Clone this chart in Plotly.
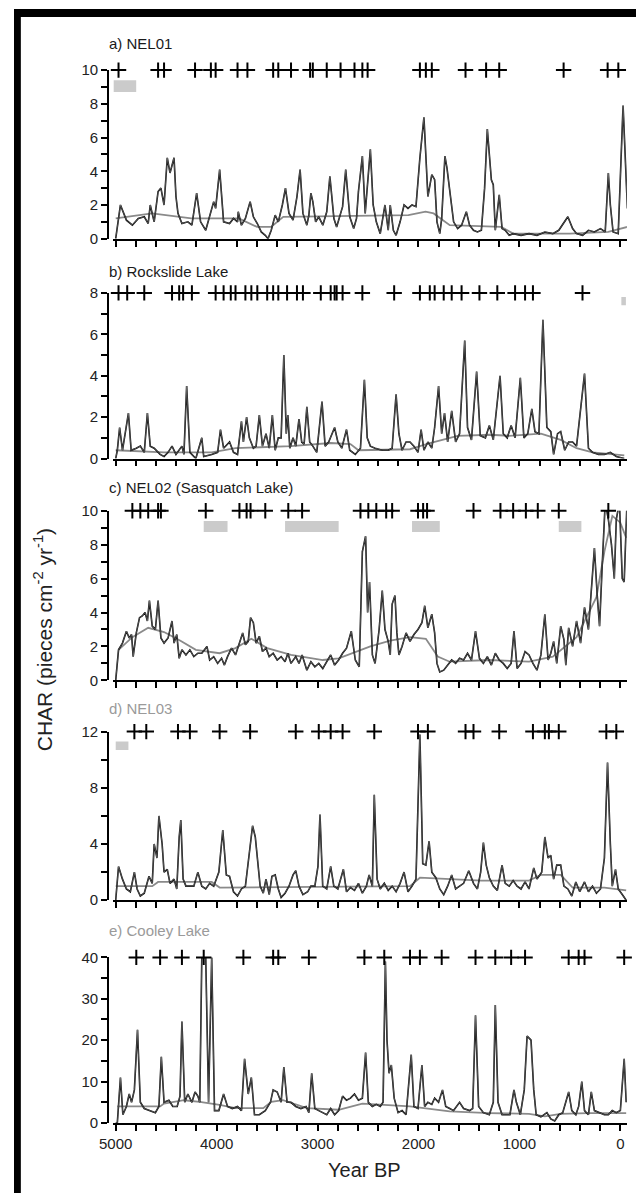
import plotly.graph_objects as go

W, H = 636, 1201

# ---------------- data (Year BP, CHAR pieces cm-2 yr-1) ----------------
a_year = [5000, 4953, 4894, 4835, 4776, 4717, 4678, 4658, 4619, 4580,
          4552, 4521, 4489, 4462, 4422, 4403, 4383, 4344, 4285, 4245,
          4198, 4159, 4108, 4049, 4029, 4010, 3970, 3931, 3872, 3833,
          3793, 3786, 3754, 3715, 3668, 3636, 3597, 3558, 3518, 3491,
          3459, 3420, 3389, 3349, 3318, 3283, 3243, 3204, 3173, 3145,
          3106, 3086, 3066, 3047, 3019, 2988, 2948, 2909, 2878, 2838,
          2811, 2752, 2721, 2681, 2642, 2614, 2595, 2556, 2528, 2516,
          2477, 2449, 2418, 2379, 2359, 2332, 2300, 2280, 2249, 2222,
          2182, 2143, 2104, 2064, 2025, 1986, 1946, 1907, 1868, 1840,
          1817, 1789, 1770, 1738, 1718, 1691, 1652, 1612, 1573, 1526,
          1494, 1455, 1416, 1377, 1345, 1318, 1278, 1259, 1239, 1200,
          1172, 1141, 1101, 1062, 984, 905, 826, 748, 669, 610,
          520, 473, 434, 374, 316, 257, 197, 150, 119, 99,
          72, 21, -27, -70]
a_char = [0, 2.0, 1.1, 0.8, 1.2, 1.3, 0.9, 2.0, 1.0, 2.8,
          3.0, 2.0, 4.8, 3.9, 4.8, 2.5, 1.5, 0.9, 1.0, 0.8,
          2.7, 1.0, 0.5, 1.7, 2.2, 1.8, 4.1, 1.0, 0.9, 1.2,
          1.0, 1.6, 0.8, 1.2, 2.2, 1.3, 0.9, 0.4, 0.2, 0.0,
          0.5, 1.4, 1.0, 2.0, 3.0, 1.5, 1.1, 2.5, 4.1, 1.5,
          0.8, 1.4, 2.7, 2.2, 1.0, 1.3, 0.8, 1.6, 3.7, 1.2,
          0.7, 1.9, 4.1, 1.3, 0.6, 1.2, 2.8, 4.9, 1.5, 2.4,
          5.3, 2.0, 1.0, 0.3, 1.0, 2.0, 0.5, 2.0, 0.5, 0.2,
          1.0, 2.0, 1.8, 2.0, 1.9, 4.8, 7.2, 2.5, 3.8, 3.5,
          1.0, 0.3, 1.2, 4.9, 4.2, 3.0, 1.0, 0.6, 0.8, 1.6,
          0.8, 0.5, 0.4, 0.5, 3.0, 6.5, 3.5, 3.2, 0.5, 2.6,
          0.6, 0.5, 0.2, 0.3, 0.2, 0.3, 0.2, 0.4, 0.3, 0.5,
          1.3, 0.6, 0.3, 0.2, 0.5, 0.4, 0.6, 0.4, 3.9, 2.0,
          0.4, 0.3, 7.9, 1.8]
a_bg_year = [5000, 4640, 4250, 3780, 3600, 3460, 3340, 2100, 1930, 1850, 1690, 1180, 1060, 500, 120, -70]
a_bg = [1.2, 1.5, 1.2, 1.2, 0.7, 0.7, 1.3, 1.4, 1.6, 1.5, 0.8, 0.7, 0.3, 0.3, 0.4, 0.7]
a_peaks = [4972, 4580, 4521, 4214, 4057, 4010, 3793, 3695, 3440, 3389, 3263, 3074, 3047,
           2909, 2772, 2634, 2556, 2504, 1986, 1927, 1868, 1534, 1330, 1200, 562, 126, 20]
a_grey_peaks = [78, 0]

b_year = [5000, 4984, 4961, 4933, 4874, 4847, 4796, 4756, 4717, 4686,
          4658, 4619, 4560, 4521, 4481, 4442, 4403, 4344, 4324, 4297,
          4265, 4206, 4147, 4128, 4049, 3990, 3962, 3931, 3872, 3833,
          3793, 3754, 3735, 3703, 3676, 3636, 3609, 3577, 3546, 3511,
          3479, 3448, 3420, 3389, 3361, 3334, 3310, 3294, 3275, 3243,
          3216, 3184, 3157, 3133, 3106, 3078, 3047, 3008, 2956, 2925,
          2890, 2831, 2799, 2760, 2713, 2681, 2626, 2575, 2536, 2508,
          2477, 2430, 2359, 2300, 2261, 2222, 2194, 2163, 2123, 2084,
          2045, 2005, 1974, 1946, 1907, 1868, 1840, 1801, 1770, 1742,
          1711, 1671, 1632, 1593, 1542, 1514, 1475, 1424, 1388, 1337,
          1298, 1259, 1192, 1160, 1121, 1082, 1043, 991, 956, 917,
          877, 846, 807, 767, 728, 689, 661, 622, 591, 551,
          512, 473, 434, 355, 316, 276, 217, 158, 99, 40, -39]
b_char = [0, 0.4, 1.5, 0.4, 2.2, 0.4, 0.5, 0.6, 0.3, 2.2,
          0.6, 0.5, 0.2, 0.1, 0.3, 0.6, 0.2, 0.6, 0.2, 3.5,
          0.3, 0.0, 1.0, 0.1, 0.2, 0.3, 1.4, 0.5, 0.8, 0.3,
          0.2, 1.8, 0.8, 2.0, 1.0, 0.5, 0.6, 2.1, 0.6, 1.2,
          0.5, 2.1, 0.4, 1.0, 1.0, 5.0, 1.2, 2.1, 0.5, 1.0,
          0.6, 1.9, 0.8, 0.7, 2.5, 0.8, 0.6, 0.3, 2.75, 0.6,
          0.8, 1.5, 0.8, 0.5, 1.4, 0.4, 0.2, 0.5, 3.8, 1.0,
          0.6, 0.5, 0.4, 0.4, 0.5, 3.1, 1.2, 0.4, 0.8, 0.8,
          0.6, 0.3, 1.4, 0.4, 0.8, 0.5, 1.5, 3.5, 1.2, 2.2,
          0.8, 2.3, 0.8, 1.2, 5.7, 1.5, 0.9, 4.2, 1.1, 1.0,
          1.6, 0.9, 4.0, 1.2, 1.0, 1.6, 1.0, 3.9, 1.0, 1.2,
          2.4, 1.3, 1.2, 6.7, 1.5, 1.3, 0.2, 1.2, 1.3, 0.4,
          0.8, 0.8, 0.6, 4.1, 0.5, 0.3, 0.2, 0.2, 0.3, 0.1, 0.0]
b_bg_year = [5000, 4521, 4049, 3813, 3263, 2870, 2674, 2595, 2084, 1887, 1612, 1298, 1101, 787, 591, 434, 276, -39]
b_bg = [0.4, 0.3, 0.3, 0.5, 0.6, 0.75, 0.7, 0.4, 0.45, 0.75, 1.1, 1.15, 1.1, 1.2, 0.9, 0.5, 0.3, 0.15]
b_peaks = [4972, 4886, 4717, 4442, 4371, 4332, 4245, 4010, 3931, 3860, 3813, 3715, 3656,
           3597, 3499, 3440, 3389, 3302, 3204, 3145, 2968, 2870, 2831, 2811, 2752, 2556,
           2241, 1986, 1888, 1840, 1750, 1671, 1573, 1396, 1219, 1043, 944, 866, 375]

c_year = [5000, 4972, 4933, 4894, 4866, 4843, 4827, 4796, 4764, 4737,
          4709, 4686, 4666, 4638, 4607, 4580, 4552, 4521, 4481, 4442,
          4422, 4395, 4371, 4344, 4304, 4265, 4226, 4186, 4147, 4096,
          4069, 4029, 3990, 3951, 3923, 3892, 3852, 3813, 3774, 3742,
          3715, 3687, 3664, 3636, 3609, 3577, 3546, 3511, 3479, 3440,
          3400, 3361, 3322, 3294, 3263, 3216, 3184, 3153, 3106, 3066,
          3027, 2988, 2948, 2909, 2870, 2831, 2791, 2752, 2713, 2666,
          2626, 2587, 2556, 2524, 2504, 2485, 2457, 2430, 2390, 2359,
          2332, 2300, 2280, 2261, 2233, 2214, 2194, 2163, 2123, 2084,
          2045, 2005, 1966, 1938, 1907, 1868, 1840, 1817, 1789, 1750,
          1711, 1671, 1632, 1593, 1553, 1514, 1475, 1435, 1396, 1357,
          1318, 1278, 1239, 1200, 1160, 1121, 1082, 1054, 1023, 984,
          944, 905, 866, 826, 787, 748, 716, 689, 661, 630,
          591, 559, 540, 512, 473, 434, 394, 355, 316, 284,
          257, 229, 206, 178, 150, 119, 88, 60, 40, 9,
          -19, -38, -66]
c_char = [0, 1.8, 2.2, 2.9, 2.5, 2.7, 1.4, 2.8, 3.7, 3.8,
          4.0, 3.5, 4.7, 3.2, 3.0, 4.7, 2.5, 2.2, 2.5, 3.5,
          2.2, 2.7, 1.3, 1.8, 1.5, 1.8, 1.4, 1.6, 1.6, 2.0,
          1.2, 1.4, 1.0, 1.3, 0.9, 1.4, 1.9, 1.5, 2.2, 2.8,
          2.1, 2.3, 3.7, 3.4, 2.2, 2.6, 1.7, 1.9, 1.4, 1.6,
          1.2, 1.4, 1.1, 1.6, 1.0, 1.4, 1.0, 1.5, 0.6, 1.1,
          0.8, 1.0, 0.7, 1.1, 1.5, 0.9, 1.2, 1.6, 1.9, 2.9,
          1.2, 0.8, 7.6, 8.5, 4.0, 5.8, 1.5, 1.0, 3.0, 5.3,
          3.0, 2.3, 1.5, 4.5, 5.0, 2.8, 1.5, 2.0, 2.8, 2.3,
          2.7, 3.0, 3.4, 4.4, 3.1, 3.9, 2.8, 1.0, 0.5, 0.6,
          0.9, 1.2, 1.0, 1.3, 1.2, 1.6, 1.2, 2.9, 1.3, 1.0,
          1.4, 0.9, 1.6, 1.2, 1.0, 0.7, 1.0, 2.9, 0.7, 1.0,
          1.7, 1.5, 1.0, 0.6, 1.5, 3.9, 1.2, 1.6, 2.3, 1.0,
          3.2, 2.4, 0.9, 3.1, 2.0, 3.5, 2.2, 4.3, 3.0, 5.5,
          7.8, 5.0, 3.2, 7.0, 10.5, 9.5, 8.0, 6.0, 9.5, 10.5,
          6.0, 5.8, 10.5]
c_bg_year = [4972, 4835, 4678, 4521, 4363, 4206, 3970, 3813, 3656, 3499, 3263, 2948, 2791, 2477,
             2280, 2084, 1927, 1809, 1691, 1298, 905, 669, 434, 237, 158, 79, 0, -58]
c_bg = [1.8, 2.55, 3.1, 2.85, 2.35, 1.8, 1.6, 1.9, 2.45, 1.9, 1.5, 1.2, 1.3, 2.0,
        2.35, 2.55, 2.45, 1.4, 1.1, 1.2, 1.1, 1.4, 2.55, 4.9, 7.6, 9.7, 9.3, 8.4]
c_peaks = [4835, 4756, 4678, 4580, 4552, 4108, 3774, 3703, 3664, 3518, 3290, 3153, 2575,
           2497, 2418, 2320, 2261, 2005, 1954, 1915, 1455, 1188, 1062, 936, 818, 610, 119]
c_grey_peaks = [119, 60]
c_gaps_start = [4128, 3322, 2064, 610]
c_gaps_end = [3892, 2791, 1789, 386]

d_year = [5000, 4972, 4933, 4894, 4855, 4815, 4788, 4756, 4717, 4670,
          4638, 4619, 4591, 4572, 4540, 4521, 4489, 4462, 4422, 4395,
          4371, 4355, 4332, 4304, 4265, 4226, 4186, 4147, 4108, 4069,
          4029, 3978, 3939, 3904, 3872, 3833, 3793, 3754, 3715, 3676,
          3644, 3617, 3589, 3569, 3538, 3511, 3479, 3452, 3420, 3389,
          3361, 3322, 3283, 3243, 3216, 3184, 3145, 3098, 3066, 3027,
          2996, 2976, 2949, 2909, 2870, 2839, 2799, 2744, 2713, 2674,
          2634, 2595, 2556, 2516, 2489, 2457, 2438, 2410, 2379, 2339,
          2300, 2261, 2222, 2182, 2143, 2104, 2064, 2025, 1986, 1958,
          1927, 1895, 1868, 1828, 1789, 1750, 1711, 1671, 1632, 1593,
          1553, 1502, 1455, 1416, 1384, 1357, 1329, 1298, 1259, 1219,
          1172, 1141, 1101, 1062, 1023, 984, 944, 905, 858, 826,
          779, 748, 716, 689, 661, 630, 591, 559, 520, 481,
          441, 402, 355, 316, 276, 237, 197, 158, 127, 99,
          80, 48, 21, -19, -58]
d_char = [0, 2.4, 1.5, 0.8, 0.6, 2.0, 0.8, 0.3, 0.5, 1.7,
          1.2, 4.0, 3.0, 6.0, 4.0, 2.0, 2.2, 1.2, 1.5, 0.8,
          4.5, 5.7, 1.5, 1.0, 1.0, 1.0, 2.0, 1.0, 0.8, 1.2,
          1.0, 2.0, 5.0, 1.8, 1.7, 0.6, 0.3, 0.8, 1.0, 3.5,
          5.3, 4.5, 2.5, 1.0, 0.5, 1.5, 0.4, 1.7, 1.8, 0.8,
          0.2, 0.5, 1.0, 1.8, 2.1, 1.0, 0.4, 0.6, 1.0, 1.0,
          2.4, 6.1, 1.0, 0.8, 2.4, 1.0, 0.8, 2.2, 0.6, 0.9,
          0.7, 1.2, 0.5, 1.0, 1.8, 1.0, 7.5, 1.5, 0.8, 1.2,
          0.7, 1.0, 0.6, 1.2, 2.0, 0.6, 1.0, 1.5, 11.8, 2.6,
          2.5, 4.2, 2.0, 1.6, 0.8, 0.4, 1.0, 1.8, 0.8, 1.0,
          1.2, 2.1, 1.2, 0.8, 2.0, 4.1, 2.5, 1.6, 1.0, 0.7,
          2.5, 1.2, 1.0, 1.4, 1.0, 0.8, 1.3, 0.8, 2.3, 1.5,
          2.0, 4.5, 3.0, 3.2, 1.5, 2.5, 2.5, 1.0, 0.8, 0.3,
          1.3, 0.6, 1.3, 0.6, 1.0, 0.5, 0.8, 3.0, 9.8, 4.0,
          1.0, 2.2, 0.8, 0.4, 0.0]
d_bg_year = [5000, 4638, 4580, 4049, 3970, 2084, 1986, 1691, 1377, 905, 787, 591, 473, 158, -58]
d_bg = [1.0, 1.0, 1.3, 1.3, 0.9, 1.0, 1.6, 1.5, 1.4, 1.4, 1.8, 1.8, 0.9, 0.9, 0.7]
d_peaks = [4815, 4697, 4383, 4265, 3970, 3668, 3216, 2988, 2870, 2752, 2438, 2005, 1907,
           1534, 1455, 1200, 866, 748, 708, 610, 139, 40]
d_grey_peaks = [99, 40, 60]
d_grey_level = [13.5, 13.5, 12.7]

e_year = [5000, 4984, 4953, 4929, 4894, 4866, 4843, 4815, 4784, 4756,
          4717, 4658, 4607, 4572, 4548, 4521, 4473, 4434, 4391, 4363,
          4344, 4316, 4285, 4245, 4214, 4186, 4167, 4147, 4108, 4080,
          4049, 4021, 3978, 3931, 3892, 3845, 3793, 3754, 3723, 3687,
          3656, 3625, 3577, 3518, 3467, 3440, 3400, 3361, 3334, 3302,
          3263, 3216, 3165, 3114, 3086, 3058, 3027, 2988, 2948, 2909,
          2870, 2831, 2791, 2752, 2713, 2674, 2634, 2595, 2556, 2524,
          2497, 2457, 2418, 2379, 2351, 2328, 2312, 2292, 2269, 2241,
          2202, 2163, 2123, 2092, 2072, 2045, 2005, 1966, 1939, 1907,
          1868, 1840, 1801, 1762, 1730, 1691, 1652, 1593, 1553, 1494,
          1463, 1435, 1404, 1357, 1298, 1259, 1239, 1212, 1172, 1133,
          1094, 1054, 1030, 991, 952, 924, 885, 858, 834, 787,
          728, 689, 650, 610, 571, 512, 481, 441, 413, 382,
          355, 316, 288, 257, 206, 158, 119, 80, 40, 0,
          -38, -58]
e_char = [0, 0, 11, 2, 4, 7, 5, 8, 22.5, 5,
          3.5, 3, 2.5, 4, 16, 5, 5.5, 4, 4, 6.5,
          24.5, 5, 7, 5, 7.5, 6.5, 5, 40, 40, 5,
          40, 3, 3, 7, 4, 3.5, 4, 3, 15.5, 7,
          11, 2, 2, 3, 5, 8, 7.5, 5, 13.5, 5,
          5, 4, 3.5, 4, 2.5, 12, 3.5, 3, 2.5, 2,
          3.5, 2, 3, 6.5, 5.5, 6, 7, 5.5, 6, 17,
          5, 4, 4.5, 4, 5, 39, 20, 12, 14, 6,
          2.5, 3, 2, 10, 16.5, 4, 3.5, 14, 4, 5,
          4.5, 6, 5, 8, 4, 3.5, 3, 5, 3.5, 3,
          3.5, 26, 4, 2.5, 2, 5, 28.5, 5, 2, 2,
          2, 8, 5, 2, 8, 21, 20, 8, 2, 1.5,
          2.5, 1, 0.5, 2, 2.5, 7.5, 3, 2, 4, 10,
          3, 2, 7.5, 3, 2.5, 2, 2, 3, 2.5, 3,
          15.5, 5]
e_bg_year = [4984, 4560, 4521, 4324, 4167, 3970, 3813, 3538, 3459, 3342, 3106, 2791, 2556, 2320,
             2084, 1691, 1298, 905, 748, 591, 316, -58]
e_bg = [4.0, 4.0, 4.7, 5.5, 5.1, 4.4, 3.6, 3.6, 5.1, 5.5, 3.6, 3.2, 4.7, 4.4,
        4.0, 2.8, 2.4, 2.2, 1.6, 2.2, 2.4, 2.4]
e_peaks = [4796, 4560, 4344, 4128, 3735, 3440, 3389, 3086, 2536, 2339, 2084, 1986, 1770,
           1435, 1239, 1082, 944, 512, 413, 355, -38]
e_grey_peaks = [296]

x_ticks = [5000, 4800, 4600, 4400, 4200, 4000, 3800, 3600, 3400, 3200, 3000, 2800, 2600,
           2400, 2200, 2000, 1800, 1600, 1400, 1200, 1000, 800, 600, 400, 200, 0]
x_tick_text = ["5000", "", "", "", "", "4000", "", "", "", "", "3000", "", "",
               "", "", "2000", "", "", "", "", "1000", "", "", "", "", "0"]

# ---------------- layout helpers (pixel -> paper) ----------------
def PX(p):
    return p / W


def PY(p):
    return 1 - p / H


FONT = "Liberation Sans, Arial, sans-serif"
X_DOM = [PX(100.9), PX(626.7)]
X_RANGE = [5030, -65]
Y_POS = PX(96)

panels = [
    dict(title="a) NEL01", tcol="#1a1a1a", ty=35, top=62, bot=233, ymax=10, dt=2, mdt=1,
         yr=a_year, val=a_char, bgy=a_bg_year, bg=a_bg, pk=a_peaks,
         gpk=a_grey_peaks, gpl=[10.6, 10.6],
         rects=[(5020, 4797, 8.7, 9.4)]),
    dict(title="b) Rockslide Lake", tcol="#1a1a1a", ty=266, top=288, bot=456, ymax=8, dt=2, mdt=1,
         yr=b_year, val=b_char, bgy=b_bg_year, bg=b_bg, pk=b_peaks,
         gpk=[], gpl=[], rects=[(-10, -55, 7.4, 7.8)]),
    dict(title="c) NEL02 (Sasquatch Lake)", tcol="#1a1a1a", ty=485, top=509, bot=681, ymax=10, dt=2, mdt=1,
         yr=c_year, val=c_char, bgy=c_bg_year, bg=c_bg, pk=c_peaks,
         gpk=c_grey_peaks, gpl=[10.6, 10.6],
         rects=[(s, e, 8.75, 9.4) for s, e in zip(c_gaps_start, c_gaps_end)]),
    dict(title="d) NEL03", tcol="#9a9a9a", ty=710, top=733, bot=904, ymax=12, dt=4, mdt=2,
         yr=d_year, val=d_char, bgy=d_bg_year, bg=d_bg, pk=d_peaks,
         gpk=d_grey_peaks, gpl=d_grey_level, rects=[(5000, 4874, 10.7, 11.3)]),
    dict(title="e) Cooley Lake", tcol="#9a9a9a", ty=935, top=962, bot=1130, ymax=40, dt=10, mdt=5,
         yr=e_year, val=e_char, bgy=e_bg_year, bg=e_bg, pk=e_peaks,
         gpk=e_grey_peaks, gpl=[43.6], rects=[]),
]

fig = go.Figure()
layout = {}
shapes = []
annotations = []

for i, p in enumerate(panels, start=1):
    xr = "x" if i == 1 else f"x{i}"
    yr = "y" if i == 1 else f"y{i}"
    xa = "xaxis" if i == 1 else f"xaxis{i}"
    ya = "yaxis" if i == 1 else f"yaxis{i}"

    # smooth background
    fig.add_trace(go.Scatter(x=p["bgy"], y=p["bg"], xaxis=xr, yaxis=yr, mode="lines",
                             line=dict(color="#8a8a8a", width=1.8), hoverinfo="skip"))
    # raw CHAR (black) with the grey interpolated series over it
    fig.add_trace(go.Scatter(x=p["yr"], y=p["val"], xaxis=xr, yaxis=yr, mode="lines",
                             line=dict(color="#000000", width=1.6), hoverinfo="skip"))
    fig.add_trace(go.Scatter(x=p["yr"], y=p["val"], xaxis=xr, yaxis=yr, mode="lines",
                             line=dict(color="#9a9a9a", width=0.5), hoverinfo="skip"))
    # peak markers
    fig.add_trace(go.Scatter(x=p["pk"], y=[p["ymax"]] * len(p["pk"]), xaxis=xr, yaxis=yr,
                             mode="markers", cliponaxis=False,
                             marker=dict(symbol="cross-thin", size=11,
                                         line=dict(color="black", width=2)),
                             hoverinfo="skip"))
    if p["gpk"]:
        fig.add_trace(go.Scatter(x=p["gpk"], y=p["gpl"], xaxis=xr, yaxis=yr,
                                 mode="markers", cliponaxis=False,
                                 marker=dict(symbol="cross-thin", size=11,
                                             line=dict(color="#c4c4c4", width=2.5)),
                                 hoverinfo="skip"))
    for (x0, x1, y0, y1) in p["rects"]:
        shapes.append(dict(type="rect", xref=xr, yref=yr, x0=x0, x1=x1, y0=y0, y1=y1,
                           fillcolor="#cbcbcb", line=dict(width=0), layer="below"))

    layout[xa] = dict(domain=X_DOM, range=X_RANGE, anchor=yr, showline=True,
                      linecolor="black", linewidth=1.6, ticks="outside", ticklen=6,
                      tickwidth=1.6, tickcolor="black", showgrid=False, zeroline=False,
                      tickmode="array", tickvals=x_ticks, ticktext=x_tick_text,
                      showticklabels=(i == 5),
                      tickfont=dict(family=FONT, size=15, color="#222"))
    layout[ya] = dict(domain=[PY(p["bot"]), PY(p["top"])], range=[0, p["ymax"]],
                      anchor="free", position=Y_POS, showline=True, linecolor="black",
                      linewidth=1.6, ticks="outside", ticklen=6, tickwidth=1.6,
                      tickcolor="black", showgrid=False, zeroline=False, dtick=p["dt"],
                      tick0=0,
                      minor=dict(dtick=p["mdt"], tick0=0, ticks="outside", ticklen=6,
                                 tickwidth=1.6, tickcolor="black", showgrid=False),
                      tickfont=dict(family=FONT, size=15, color="#222"))

    annotations.append(dict(text=p["title"], xref="paper", yref="paper", x=PX(95), y=PY(p["ty"]),
                            xanchor="left", yanchor="middle", showarrow=False,
                            font=dict(family=FONT, size=15, color=p["tcol"])))

annotations.append(dict(text="CHAR (pieces cm<sup>-2</sup> yr<sup>-1</sup>)", xref="paper",
                        yref="paper", x=PX(30), y=PY(640), textangle=-90, showarrow=False,
                        xanchor="center", yanchor="middle",
                        font=dict(family=FONT, size=21, color="#222")))
annotations.append(dict(text="Year BP", xref="paper", yref="paper", x=PX(358), y=PY(1178),
                        showarrow=False, xanchor="center", yanchor="middle",
                        font=dict(family=FONT, size=20, color="#222")))

# black frame at top and left of the page
shapes.append(dict(type="rect", xref="paper", yref="paper", x0=0, x1=1, y0=PY(8), y1=1,
                   fillcolor="black", line=dict(width=0), layer="above"))
shapes.append(dict(type="rect", xref="paper", yref="paper", x0=0, x1=PX(7), y0=0, y1=1,
                   fillcolor="black", line=dict(width=0), layer="above"))

fig.update_layout(width=W, height=H, margin=dict(l=0, r=0, t=0, b=0),
                  paper_bgcolor="white", plot_bgcolor="white", showlegend=False,
                  shapes=shapes, annotations=annotations, **layout)

fig.write_html("out.html")
